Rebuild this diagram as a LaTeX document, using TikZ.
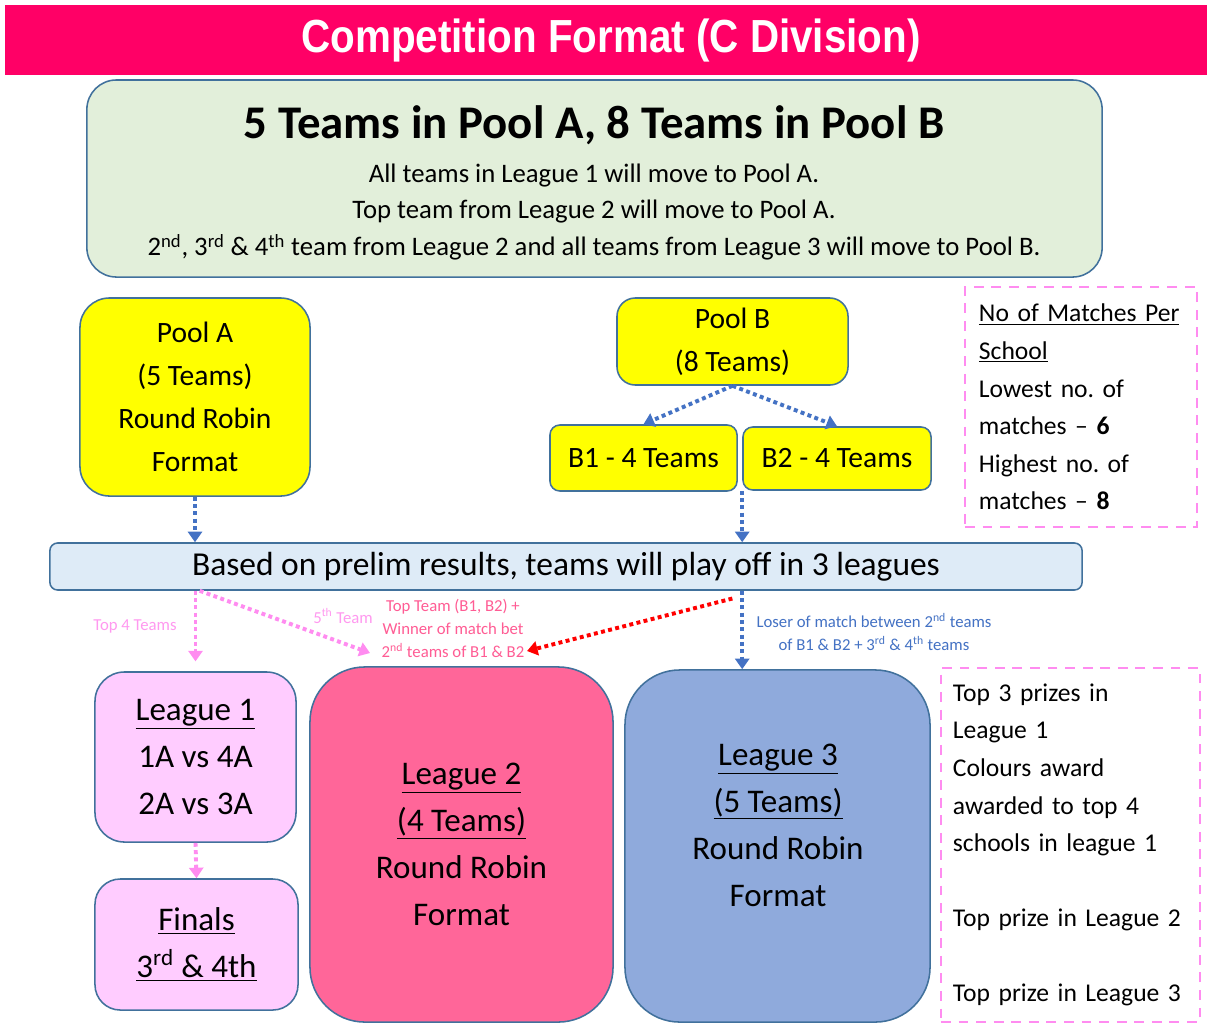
\documentclass[tikz,border=0pt]{standalone}
\usepackage{fontspec}
\setmainfont{Carlito}
\newfontfamily\titlefont[FakeStretch=0.87]{Liberation Sans}
\usepackage{tikz}
\usetikzlibrary{arrows.meta}

\definecolor{titlepink}{HTML}{FF0066}
\definecolor{poolgreen}{HTML}{E2EFDA}
\definecolor{boxline}{HTML}{41719C}
\definecolor{poolyellow}{HTML}{FFFF00}
\definecolor{prelimblue}{HTML}{DEEBF7}
\definecolor{leagueonepink}{HTML}{FFCCFF}
\definecolor{leaguetwopink}{HTML}{FF6699}
\definecolor{leaguethreeblue}{HTML}{8FAADC}
\definecolor{arrowblue}{HTML}{4472C4}
\definecolor{arrowpink}{HTML}{FF8CF0}
\definecolor{labelpink}{HTML}{FF99F0}
\definecolor{notepink}{HTML}{FF5C94}

\newcommand\fsz[2]{\fontsize{#1}{#2}\selectfont}
\frenchspacing

\begin{document}
\begin{tikzpicture}[x = 0.025cm, y = -0.025cm,
            box/.style = {draw = boxline, line width = 1.1pt, align = center, inner sep = 0pt},
            poolbox/.style = {box, fill = poolyellow, font = \fsz{21}{30.6}},
            leaguebox/.style = {box, font = \fsz{23.5}{33.4}},
            notebox/.style = {draw = arrowpink, line width = 2pt, dash pattern = on 7pt off 5.5pt,
            align = left, font = \fsz{18.2}{26.7}, inner ysep = 0pt},
            flow/.style = {line width = 2.8pt, dash pattern = on 2.8pt off 2.4pt,
            -{Triangle[width = 10pt, length = 7.5pt]}},
            smalltext/.style = {font = \fsz{11.9}{16.4}, align = center, inner sep = 0pt}]
            \path [use as bounding box, fill = white] (0,0) rectangle (1208,1028);

            \node [fill = titlepink, minimum width = 30.05cm, minimum height = 1.75cm]
            (titlebar) at (606,40) {};
            \node [text = white, font = \titlefont\bfseries\fsz{33}{39}] (titletext) at (611,40)
            {Competition Format (C Division)};

            \node [box, fill = poolgreen, rounded corners = 21pt, minimum width = 25.375cm,
            minimum height = 4.925cm] (poolsbox) at (594.5,178.5) {};
            \node [font = \bfseries\fsz{33.3}{39}] (poolshead) at (594,125)
            {5 Teams in Pool A, 8 Teams in Pool B};
            \node [align = center, font = \fsz{19}{26.3}] (poolsnote) at (594,212)
            {All teams in League 1 will move to Pool A.\\
            Top team from League 2 will move to Pool A.\\
            2\textsuperscript{nd}, 3\textsuperscript{rd} \& 4\textsuperscript{th} team from League 2 and all teams from League 3 will move to Pool B.};

            \node [poolbox, rounded corners = 21pt, minimum width = 5.75cm, minimum height = 4.95cm]
            (poola) at (195,397) {Pool A\\ (5 Teams)\\ Round Robin\\ Format};
            \node [poolbox, rounded corners = 13pt, minimum width = 5.775cm, minimum height = 2.175cm]
            (poolb) at (732.5,341.5) {Pool B\\ (8 Teams)};
            \node [poolbox, rounded corners = 7pt, minimum width = 4.675cm, minimum height = 1.65cm]
            (bone) at (643.5,458) {B1 - 4 Teams};
            \node [poolbox, rounded corners = 7pt, minimum width = 4.7cm, minimum height = 1.575cm]
            (btwo) at (837,458.5) {B2 - 4 Teams};

            \node [notebox, text width = 5.1cm, inner xsep = 0.35cm, minimum height = 6cm]
            (matches) at (1081,407)
            {\underline{No of Matches Per}\\ \underline{School}\\ Lowest no. of\\
            matches -- \textbf{6}\\ Highest no. of\\ matches -- \textbf{8}};

            \node [box, fill = prelimblue, rounded corners = 5.5pt, minimum width = 25.8cm,
            minimum height = 1.175cm, font = \fsz{23.8}{30}] (prelim) at (566,566.5)
            {Based on prelim results, teams will play off in 3 leagues};

            \node [leaguebox, fill = leagueonepink, rounded corners = 21pt, minimum width = 5.025cm,
            minimum height = 4.25cm] (leagueone) at (195.5,757)
            {\underline{League 1}\\ 1A vs 4A\\ 2A vs 3A};
            \node [leaguebox, fill = leagueonepink, rounded corners = 18pt, minimum width = 5.075cm,
            minimum height = 3.275cm] (finals) at (196.5,944.5)
            {\underline{Finals}\\ \underline{3\textsuperscript{rd} \& 4th}};
            \node [leaguebox, fill = leaguetwopink, rounded corners = 39pt, minimum width = 7.575cm,
            minimum height = 8.875cm] (leaguetwo) at (461.5,844.5)
            {\underline{League 2}\\ \underline{(4 Teams)}\\ Round Robin\\ Format};
            \node [leaguebox, fill = leaguethreeblue, rounded corners = 39pt, minimum width = 7.625cm,
            minimum height = 8.8cm] (leaguethree) at (777.5,846) {};
            \node [align = center, font = \fsz{23.5}{33.4}] (leaguethreetext) at (778,825)
            {\underline{League 3}\\ \underline{(5 Teams)}\\ Round Robin\\ Format};

            \node [notebox, text width = 5.875cm, inner xsep = 0.3cm, minimum height = 8.85cm]
            (prizes) at (1070.5,845)
            {Top 3 prizes in\\ League 1\\ Colours award\\ awarded to top 4\\
            schools in league 1\\[26.7pt] Top prize in League 2\\[26.7pt] Top prize in League 3};

            \node [smalltext, text = labelpink] (topfour) at (135,626) {Top 4 Teams};
            \node [smalltext, text = labelpink] (fifthteam) at (343,616) {5\textsuperscript{th} Team};
            \node [smalltext, text = notepink] (topteam) at (453,628)
            {Top Team (B1, B2) +\\ Winner of match bet\\ 2\textsuperscript{nd} teams of B1 \& B2};
            \node [smalltext, text = arrowblue] (loser) at (874,632)
            {Loser of match between 2\textsuperscript{nd} teams\\
            of B1 \& B2 + 3\textsuperscript{rd} \& 4\textsuperscript{th} teams};

            \draw [flow, arrowblue] (poola.south) -- (poola.south |- prelim.north);
            \draw [flow, arrowblue] (poolb.south) -- (bone.north);
            \draw [flow, arrowblue] (poolb.south) -- (btwo.north);
            \draw [flow, arrowblue] (btwo.south west) -- (btwo.south west |- prelim.north);

            \coordinate (splitone) at (leagueone.north |- prelim.south);
            \coordinate (splitthree) at (btwo.south west |- prelim.south);
            \coordinate (splittwo) at ([xshift = -7pt, yshift = -5.5pt]splitthree);
            \coordinate (fifthtip) at (370,653);
            \coordinate (toptip) at (527,651);

            \draw [flow, arrowpink] (splitone) -- ([yshift = 7pt]leagueone.north);
            \draw [flow, arrowpink] ([xshift = 3pt]splitone) -- (fifthtip);
            \draw [flow, red] (splittwo) -- (toptip);
            \draw [flow, arrowblue] (splitthree) -- (splitthree |- leaguethree.north);
            \draw [flow, arrowpink] (leagueone.south) -- (finals.north);
        \end{tikzpicture}
\end{document}
